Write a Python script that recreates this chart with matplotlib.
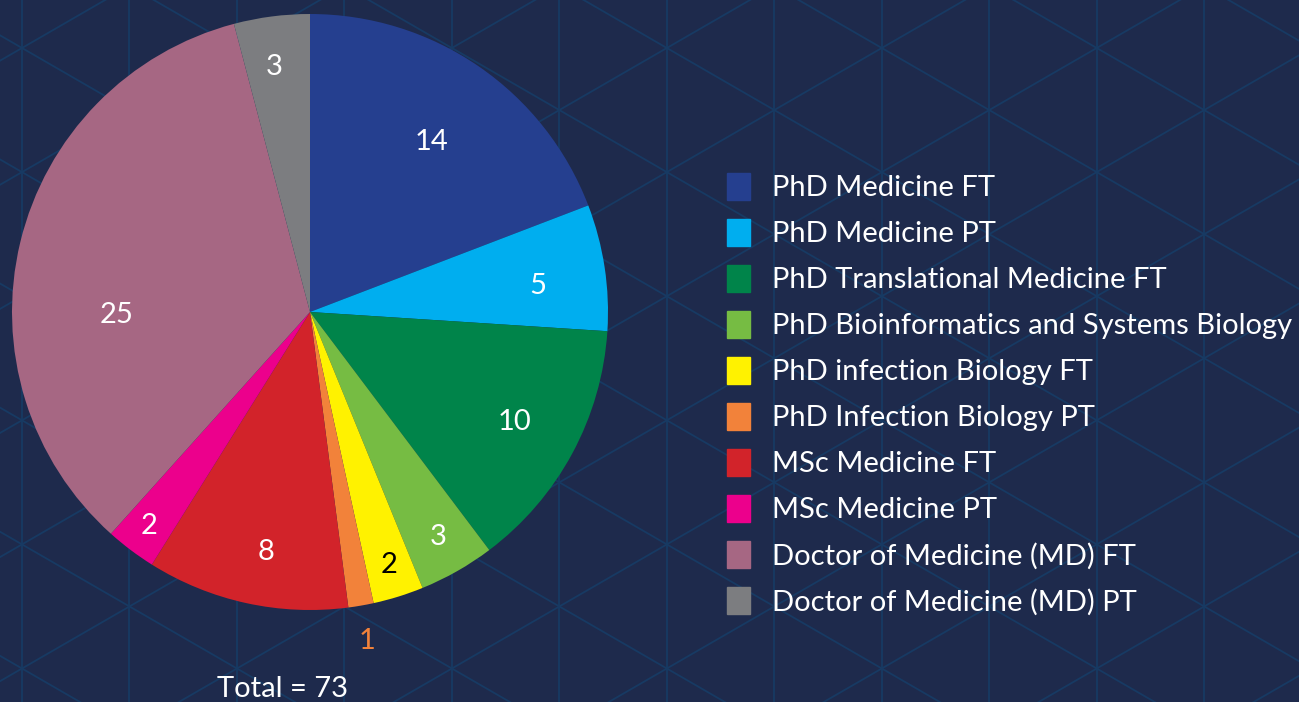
import numpy as np
import matplotlib.pyplot as plt

# programme enrolment data
categories = [
    'PhD Medicine FT',
    'PhD Medicine PT',
    'PhD Translational Medicine FT',
    'PhD Bioinformatics and Systems Biology',
    'PhD infection Biology FT',
    'PhD Infection Biology PT',
    'MSc Medicine FT',
    'MSc Medicine PT',
    'Doctor of Medicine (MD) FT',
    'Doctor of Medicine (MD) PT',
]
counts = [14, 5, 10, 3, 2, 1, 8, 2, 25, 3]
colors = ['#253f8f', '#00aeef', '#00844a', '#76bc43', '#fff200',
          '#f2823a', '#d2232a', '#ec008c', '#a66783', '#7c7d80']
label_colors = ['white', 'white', 'white', 'white', 'black',
                '#f2823a', 'white', 'white', 'white', 'white']
label_radius = [0.70, 0.77, 0.78, 0.87, 0.89, 1.12, 0.82, 0.90, 0.65, 0.83]
label_shift = [-1, -2, 0, 0, 0, 0, 2, 0, 14.5, 1]  # degrees, nudges off the wedge middle

BG = '#1e2a4c'
LATTICE = '#173a63'
FONT = ['Lato', 'DejaVu Sans']
W, H = 1299, 702
FS = 21

plt.rcParams['font.family'] = FONT

fig = plt.figure(figsize=(W / 100, H / 100), dpi=100)
fig.patch.set_facecolor(BG)

# full-figure overlay in pixel coordinates for the background and legend
bg = fig.add_axes([0, 0, 1, 1])
bg.set_xlim(0, W)
bg.set_ylim(H, 0)
bg.axis('off')
bg.set_facecolor(BG)

# triangular lattice pattern
step = 107.5
slope = np.tan(np.radians(30))
x0, y0 = 22, 48
for k in range(-2, 14):
    bg.axvline(x0 + k * step, color=LATTICE, lw=1.3, zorder=0)
xs = np.array([0, W])
for k in range(-12, 12):
    bg.plot(xs, y0 + slope * (xs - x0) + 124.1 * k, color=LATTICE, lw=1.3, zorder=0)
    bg.plot(xs, y0 - slope * (xs - x0) + 124.1 * k, color=LATTICE, lw=1.3, zorder=0)

# legend
for i, (name, c) in enumerate(zip(categories, colors)):
    y = 173 + i * 46
    bg.add_patch(plt.Rectangle((727, y), 23, 27, color=c, zorder=2))
    bg.text(772, y + 15, name, color='white', fontsize=FS, va='center', ha='left', zorder=3)

bg.text(283, 689, 'Total = 73', color='white', fontsize=FS, ha='center', va='center')

# pie
cx, cy, R = 310, 312, 298
ax = fig.add_axes([(cx - R) / W, (H - cy - R) / H, 2 * R / W, 2 * R / H])
wedges, _ = ax.pie(counts, colors=colors, startangle=90, counterclock=False,
                   radius=1, wedgeprops=dict(linewidth=0))
ax.set_xlim(-1, 1)
ax.set_ylim(-1, 1)
ax.set_aspect('equal')
ax.axis('off')

for w, v, lc, r, s in zip(wedges, counts, label_colors, label_radius, label_shift):
    mid = np.radians((w.theta1 + w.theta2) / 2 + s)
    ax.text(r * np.cos(mid), r * np.sin(mid), str(v), color=lc, fontsize=FS,
            ha='center', va='center', clip_on=False)

fig.savefig('out.png', dpi=100, facecolor=BG)
